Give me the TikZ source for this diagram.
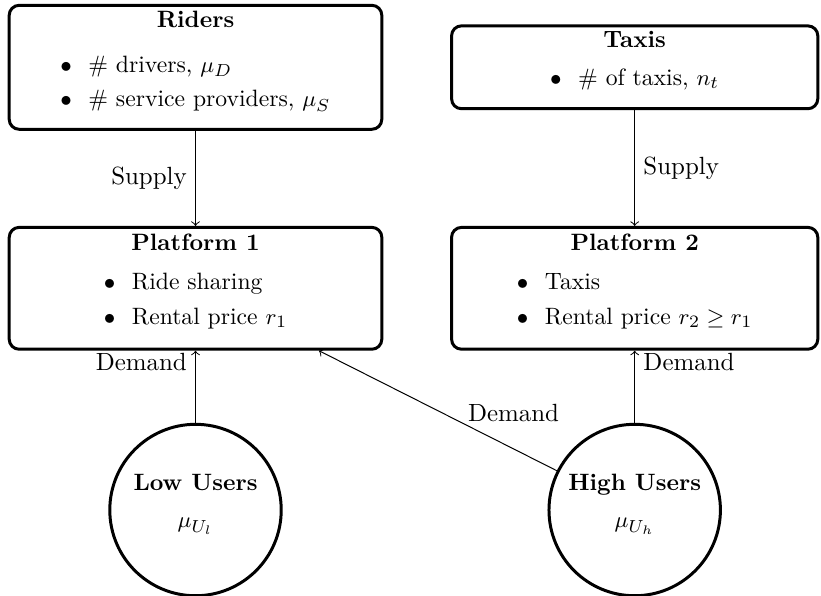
\documentclass[tikz,border=0pt]{standalone}
\usepackage{amsmath,amssymb}
\usetikzlibrary{positioning}
\newcommand{\nodefont}{\fontsize{9.5pt}{11.5pt}\selectfont}

\begin{document}
\begin{tikzpicture}[box/.style={rectangle,rounded corners,draw=black,very thick,align=center,font=\nodefont,inner ysep=2pt},
  users/.style={circle,draw=black,very thick,align=center,font=\nodefont,minimum size=2.42cm,inner sep=0pt}]
\useasboundingbox (0,0) rectangle (11.59,-8.40);
 \begin{scope}[every node/.style={box}]
    \node (riders) [minimum width=5.26cm, minimum height=1.75cm] at (2.76,-0.95) {\textbf{Riders}\\[6.5pt]
      \begin{tabular}[t]{@{}l@{}} $\bullet$\hspace{0.7em}\# drivers, $\mu_D$\\[2.5pt] $\bullet$\hspace{0.7em}\# service providers, $\mu_S$\\[3.3pt] \end{tabular}};
    \node (taxis) [minimum width=5.17cm, minimum height=1.17cm] at (8.96,-0.95) {\textbf{Taxis}\\[3.5pt]
      \begin{tabular}[t]{@{}l@{}} $\bullet$\hspace{0.7em}\# of taxis, $n_t$\\[3.8pt] \end{tabular}};
    \node (p1) [minimum width=5.26cm, minimum height=1.72cm] at (2.76,-4.07) {\textbf{Platform 1}\\[4pt]
      \begin{tabular}[t]{@{}l@{}} $\bullet$\hspace{0.7em}Ride sharing\\[2.5pt] $\bullet$\hspace{0.7em}Rental price $r_1$\\[3.8pt] \end{tabular}};
    \node (p2) [minimum width=5.17cm, minimum height=1.72cm] at (8.96,-4.07) {\textbf{Platform 2}\\[4pt]
      \begin{tabular}[t]{@{}l@{}} $\bullet$\hspace{0.7em}Taxis\\[2.5pt] $\bullet$\hspace{0.7em}Rental price $r_2 \geq r_1$\\[3.8pt] \end{tabular}};
 \end{scope}
   \node (low) [users] at (2.76,-7.20) {\begin{tabular}{@{}c@{}}\textbf{Low Users}\\[3.5pt] $\mu_{U_l}$\\[5.3pt]\end{tabular}};
   \node (high) [users] at (8.96,-7.20) {\begin{tabular}{@{}c@{}}\textbf{High Users}\\[3.5pt] $\mu_{U_h}$\\[5.3pt]\end{tabular}};
 \begin{scope}[every edge/.style={draw=black, thin, ->}]
   \path (riders) edge node[left] {Supply} (p1);
   \path (taxis) edge node[right] {Supply} (p2);
   \path (low) edge node[left, pos=0.85] {Demand} (p1);
   \path (high) edge node[right, pos=0.85] {Demand} (p2);
   \path (high) edge node[right, pos=0.41, yshift=3.5pt] {Demand} (p1);
 \end{scope}
\end{tikzpicture}
\end{document}
